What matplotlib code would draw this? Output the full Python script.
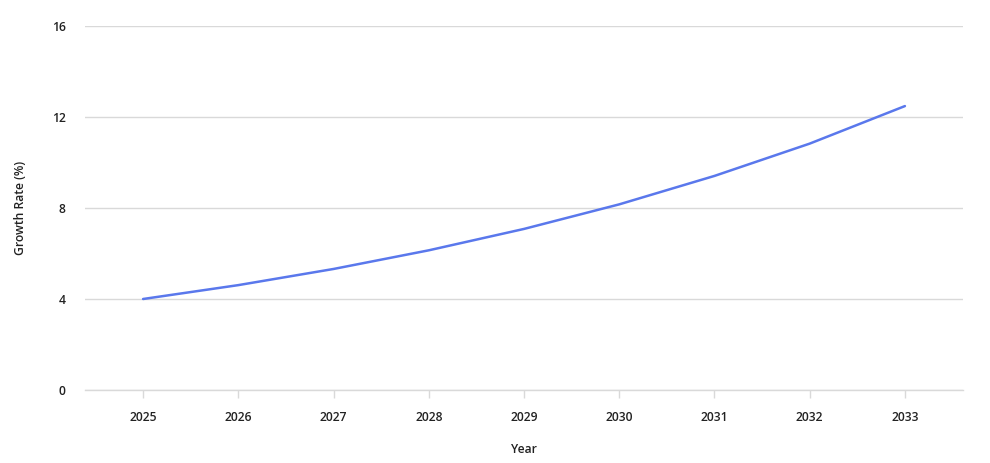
import matplotlib.pyplot as plt

years = [2025, 2026, 2027, 2028, 2029, 2030, 2031, 2032, 2033]
growth = [4.0, 4.61, 5.32, 6.14, 7.08, 8.16, 9.41, 10.83, 12.48]
yticks = [0, 4, 8, 12, 16]

plt.rcParams['font.family'] = ['Open Sans', 'DejaVu Sans']

fig = plt.figure(figsize=(9.9, 4.63), dpi=100)
ax = fig.add_axes([85 / 990, 73 / 463, 878 / 990, 364 / 463])

ax.plot(years, growth, color='#5a78ec', linewidth=1.8, solid_capstyle='round')

ax.set_ylim(0, 16)
ax.set_xlim(years[0] - 0.61, years[-1] + 0.61)
ax.set_yticks(yticks)
ax.set_xticks(years)
ax.set_xticklabels([str(y) for y in years])

ax.grid(axis='y', color='#d9d9d9', linewidth=1)
ax.set_axisbelow(True)
for side in ['top', 'right', 'left']:
    ax.spines[side].set_visible(False)
ax.spines['bottom'].set_color('#d9d9d9')
ax.spines['bottom'].set_linewidth(1)

ax.tick_params(axis='y', length=0, pad=14, labelsize=8.7, labelcolor='#222222')
ax.tick_params(axis='x', length=6, width=1, color='#d9d9d9', pad=9,
               labelsize=8.7, labelcolor='#222222')
for lbl in ax.get_xticklabels() + ax.get_yticklabels():
    lbl.set_fontweight('semibold')

ax.set_xlabel('Year', fontsize=8.7, fontweight='semibold', color='#222222', labelpad=14)
ax.set_ylabel('Growth Rate (%)', fontsize=8.7, fontweight='semibold', color='#222222', labelpad=18)

fig.savefig('out.png', dpi=100)
